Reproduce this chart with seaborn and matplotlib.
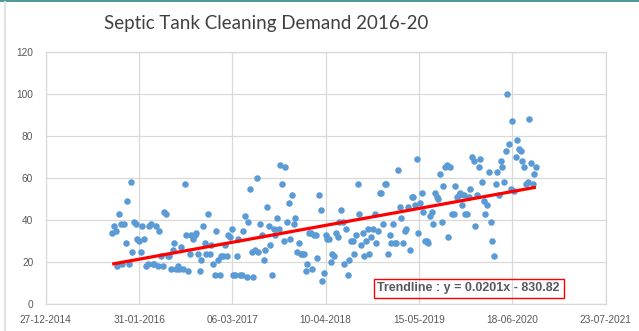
import numpy as np
import pandas as pd
import matplotlib
matplotlib.use("Agg")
import matplotlib.pyplot as plt
import matplotlib.dates as mdates
from matplotlib.lines import Line2D
import seaborn as sns

# Weekly septic tank cleaning requests, Oct 2015 - Sep 2020
first_week = "2015-10-08"
last_week = "2020-09-27"
demand = [
    34, 37, 35, 18, 43, 38, 19, 38, 29, 49, 19, 58, 25, 39, 38, 31, 30, 25, 37, 31,
    18, 19, 37, 38, 19, 19, 37, 18, 35, 23, 18, 44, 43, 23, 23, 17, 26, 29, 17, 18,
    17, 27, 17, 57, 33, 16, 24, 33, 31, 33, 34, 24, 16, 21, 37, 29, 24, 43, 24, 28,
    19, 14,
    35, 21, 14, 23, 23, 28, 23, 33, 32, 36, 14, 14, 23, 31, 14, 14, 35, 42, 13,
    39, 55, 25, 13, 26, 60, 25, 38, 33, 21, 26, 46, 37, 28, 14, 36, 33, 41, 36, 66,
    57, 30, 65, 39, 48, 31, 52, 38, 41, 25, 29, 24, 24, 24, 16, 19, 34, 34, 17, 33,
    33, 22, 52, 45, 11, 15, 33, 31, 31, 20, 24, 23, 34, 32, 39, 45, 39, 19, 36, 14,
    21, 30, 30, 24, 33, 57, 43, 28, 34, 23, 30, 36, 24, 32, 36, 43, 29, 35, 53, 53,
    38, 57, 57, 24, 33, 29, 38, 29, 29, 64, 46, 41, 29, 35, 36, 46, 26, 51, 51, 47,
    69, 34, 48,
    53, 44, 30, 30, 29, 42, 44, 38, 53, 51, 50, 62, 39, 56, 65, 66, 32, 65, 43,
    43, 56, 51, 52, 53, 47, 52, 43, 43, 51, 55, 70, 68, 37, 52, 65, 69, 58, 49, 43,
    47, 63, 39, 30, 23, 57, 63, 52, 68, 65, 58, 73, 100, 76, 55, 87, 54, 70, 78, 74,
    73, 68, 65, 57, 58, 88, 67, 57, 62, 65,
]

# Linear trend (x = spreadsheet serial day number)
trend_slope = 0.0201
trend_intercept = -830.82
trend_label = "Trendline : y = 0.0201x - 830.82"

x_ticks = ["2014-12-27", "2016-01-31", "2017-03-06", "2018-04-10",
           "2019-05-15", "2020-06-18", "2021-07-23"]
y_ticks = [0, 20, 40, 60, 80, 100, 120]

dates = pd.date_range(first_week, last_week, periods=len(demand))
df = pd.DataFrame({"date": dates, "demand": demand})

sns.set_theme(style="white")
plt.rcParams["font.family"] = ["Liberation Sans", "DejaVu Sans"]

fig = plt.figure(figsize=(6.39, 3.31), dpi=100)
ax = fig.add_axes([45.7 / 639, 1 - 304.3 / 331, 560 / 639, 252.6 / 331])

grid_c = "#d9d9d9"
label_c = "#595959"

sns.scatterplot(data=df, x="date", y="demand", ax=ax, color="#5b9bd5",
                s=22, linewidth=0, zorder=3, legend=False)

# Trendline drawn from its stated equation over the data range
serial_offset = 25569  # spreadsheet serial of 1970-01-01
t = mdates.date2num(pd.to_datetime([first_week, last_week]))
trend_y = trend_slope * (t + serial_offset) + trend_intercept
ax.plot(mdates.num2date(t), trend_y, color="#ff0000", lw=2.3,
        solid_capstyle="butt", zorder=4)

xt = pd.to_datetime(x_ticks)
ax.set_xlim(xt[0], xt[-1])
ax.set_ylim(0, 120)
ax.set_xticks(xt)
ax.xaxis.set_major_formatter(mdates.DateFormatter("%d-%m-%Y"))
ax.set_yticks(y_ticks)
ax.grid(True, color=grid_c, lw=0.9)
ax.set_axisbelow(True)
for sp in ax.spines.values():
    sp.set_color(grid_c)
    sp.set_linewidth(0.9)
ax.tick_params(axis="both", length=0, labelsize=7.3, labelcolor=label_c)
ax.tick_params(axis="x", pad=8)
ax.tick_params(axis="y", pad=9)
ax.set_xlabel("")
ax.set_ylabel("")

fig.text(266 / 639, 1 - 24 / 331, "Septic Tank Cleaning Demand 2016-20",
         ha="center", va="center", fontsize=13.5, color="#404040",
         family=["Lato", "DejaVu Sans"])

ax.text(468.7 / 639, 1 - 288.3 / 331, trend_label, transform=fig.transFigure,
        ha="center", va="center", fontsize=9, fontweight="bold", color=label_c,
        bbox=dict(boxstyle="square,pad=0.3", fc="none", ec="#ff0000", lw=1.0),
        zorder=5)

# chart frame accents
fig.add_artist(Line2D([0, 1], [1 - 0.6 / 331] * 2, transform=fig.transFigure,
                      color="#3f8f8f", lw=1.3))
fig.add_artist(Line2D([4.5 / 639] * 2, [0, 1 - 1.5 / 331], transform=fig.transFigure,
                      color="#e3e3e3", lw=1.6))

fig.savefig("out.png", dpi=100)
